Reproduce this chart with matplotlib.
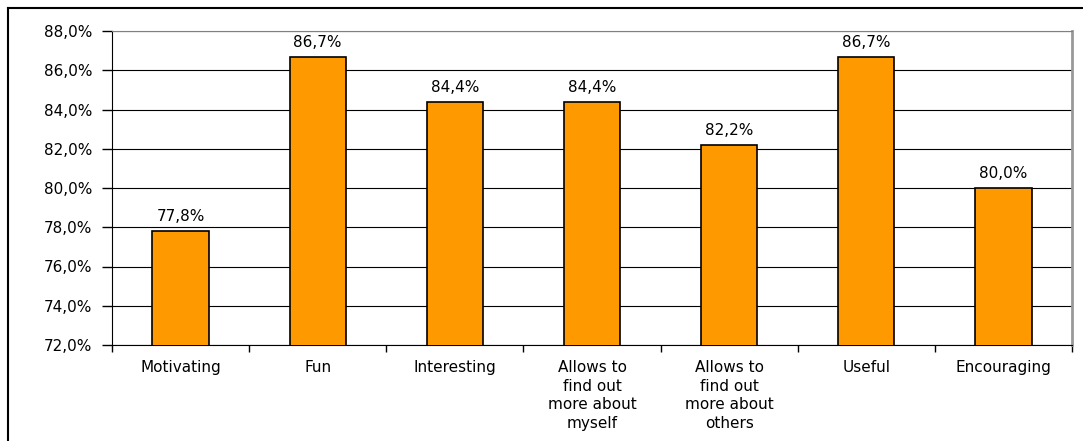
import matplotlib.pyplot as plt
from matplotlib.lines import Line2D
import numpy as np

categories = ["Motivating", "Fun", "Interesting",
              "Allows to\nfind out\nmore about\nmyself",
              "Allows to\nfind out\nmore about\nothers",
              "Useful", "Encouraging"]
values = [77.8, 86.7, 84.4, 84.4, 82.2, 86.7, 80.0]
yticks = [72, 74, 76, 78, 80, 82, 84, 86, 88]

plt.rcParams['font.family'] = ['DejaVu Sans']
FS = 11

fig = plt.figure(figsize=(10.83, 4.41), dpi=100)
ax = fig.add_axes([112 / 1083, 1 - 345 / 441, (1072 - 112) / 1083, (345 - 31) / 441])

x = np.arange(len(categories))
ax.bar(x, values, width=0.41, color='#FF9900', edgecolor='black',
       linewidth=1.2, zorder=3)

for xi, v in zip(x, values):
    ax.text(xi, v + 0.35, f"{v:.1f}%".replace('.', ','), ha='center', va='bottom',
            fontsize=FS, zorder=4)

ax.set_ylim(72, 88)
ax.set_xlim(-0.5, len(categories) - 0.5)
ax.set_yticks(yticks)
ax.set_yticklabels([f"{t:.1f}%".replace('.', ',') for t in yticks], fontsize=FS)

# category labels centred, ticks at boundaries
ax.set_xticks(np.arange(len(categories) + 1) - 0.5)
ax.set_xticklabels([])
ax.tick_params(axis='x', length=5, width=1, direction='out')
ax.tick_params(axis='y', length=7, width=1, direction='out', pad=7)
for xi, c in zip(x, categories):
    ax.text(xi, 72 - 0.75, c, ha='center', va='top', fontsize=FS, linespacing=1.32)

ax.grid(axis='y', color='black', linewidth=0.8, zorder=0)
ax.spines['left'].set_color('black')
ax.spines['bottom'].set_color('black')
ax.spines['top'].set_color('#808080')
ax.spines['right'].set_color('#999999')
ax.spines['right'].set_linewidth(2)

# outer chart frame (partly cropped)
fig.add_artist(Line2D([8 / 1083, 8 / 1083], [0, 1 - 8 / 441], color='black',
                      linewidth=1.5, transform=fig.transFigure))
fig.add_artist(Line2D([8 / 1083, 1], [1 - 8 / 441, 1 - 8 / 441], color='black',
                      linewidth=1.5, transform=fig.transFigure))

fig.savefig('out.png', dpi=100)
